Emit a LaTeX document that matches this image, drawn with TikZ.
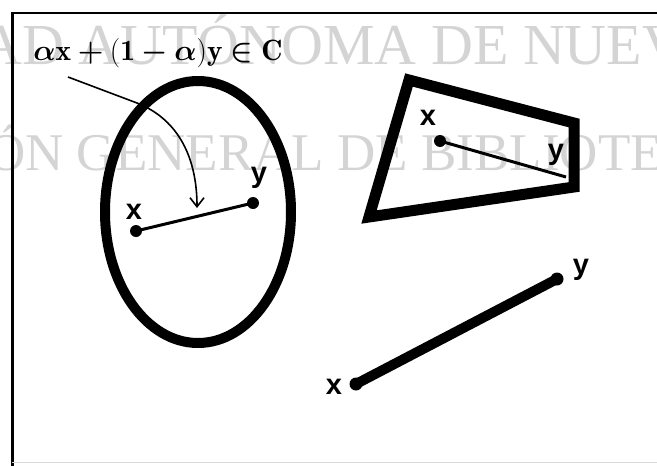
\documentclass[tikz,border=0pt]{standalone}
\usepackage{amsmath}
\usepackage{fontspec}
\newfontfamily\wmfont{Liberation Serif}
\newfontfamily\lblfont{Liberation Sans}
\usetikzlibrary{arrows.meta}
\definecolor{wmgray}{RGB}{212,212,212}
\newcommand{\titletext}{$\boldsymbol{\alpha}\mathbf{x}\boldsymbol{+}\mathbf{(1}\boldsymbol{-}\boldsymbol{\alpha}\mathbf{)y}\boldsymbol{\in}\mathbf{C}$}
\tikzset{
  wm/.style={anchor=base west, inner sep=0pt, text=wmgray},
  wmone/.style={wm, font=\wmfont\fontsize{58}{58}\selectfont},
  wmtwo/.style={wm, font=\wmfont\fontsize{53}{53}\selectfont},
  lbl/.style={inner sep=0pt, font=\lblfont\bfseries\fontsize{29}{29}\selectfont},
  titlefont/.style={inner sep=0pt, font=\Huge, scale=1.18, transform shape},
  pdot/.style={circle, fill=black, inner sep=0pt, minimum size=12pt},
  bigdot/.style={circle, fill=black, inner sep=0pt, minimum size=13pt},
  thinseg/.style={line width=3pt},
  thickline/.style={line width=11pt}
}
\begin{document}
\begin{tikzpicture}[x=1pt, y=-1pt]
\useasboundingbox (0,0) rectangle (657,466);
\fill[white] (0,0) rectangle (657,466);
% watermark
\node[wmone] (w1) at (-20,64) {AD AUTÓNOMA DE NUEV};
\node[wmtwo] (w2) at (-13,170) {ÓN GENERAL DE BIBLIOTE};
% frame
\draw[line width=2pt] (12,13) -- (657,13);
\draw[line width=3pt] (12,12) -- (12,466);
\draw[line width=1pt, black!15] (12,462) -- (657,462);
% title
\node[titlefont] (title) at (158,53) {\titletext};
% ellipse
\draw[line width=10pt] (198,212) ellipse [x radius=93pt, y radius=131pt];
\node[pdot] (ex) at (136,231) {};
\node[pdot] (ey) at (253,203) {};
\draw[thinseg] (ex.center) -- (ey.center);
\node[lbl] (exl) at (134,212) {x};
\node[lbl] (eyl) at (259,178) {y};
\coordinate (as) at (68,77);
\coordinate (am) at (137,103);
\coordinate (at) at (197,208);
\draw[line width=1.6pt, -{Straight Barb[length=9pt, width=14pt, line width=1.6pt]}] (as) -- (am) .. controls (180,120) and (197,160) .. (at);
% quadrilateral
\draw[thickline, line join=miter] (409,80) -- (574,123) -- (574,187) -- (369,217) -- cycle;
\node[pdot] (qx) at (440,141) {};
\coordinate (qy) at (566,177);
\draw[thinseg] (qx.center) -- (qy);
\node[lbl] (qxl) at (428,118) {x};
\node[lbl] (qyl) at (556,155) {y};
% segment
\node[bigdot] (sx) at (356,384) {};
\node[bigdot] (sy) at (557,279) {};
\draw[line width=10pt, line cap=round] (sx.center) -- (sy.center);
\node[lbl] (sxl) at (334,387) {x};
\node[lbl] (syl) at (581,270) {y};
\end{tikzpicture}
\end{document}
